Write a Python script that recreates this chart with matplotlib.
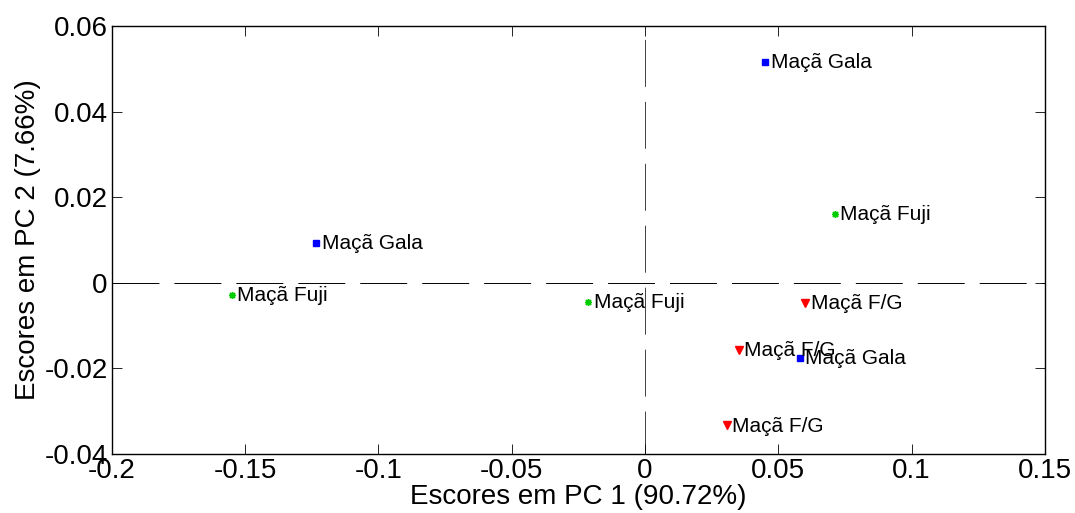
import numpy as np
import matplotlib
matplotlib.use('Agg')
import matplotlib.pyplot as plt

plt.rcParams['font.family'] = ['Liberation Sans', 'DejaVu Sans']
plt.rcParams['lines.scale_dashes'] = False

# scores PC1 / PC2
gala_x = [0.045, -0.1234, 0.058]
gala_y = [0.0517, 0.0093, -0.0175]
fuji_x = [0.0712, -0.155, -0.0214]
fuji_y = [0.0161, -0.0028, -0.0044]
fg_x = [0.060, 0.0352, 0.0307]
fg_y = [-0.0047, -0.0156, -0.0333]

xticks = [-0.2, -0.15, -0.1, -0.05, 0, 0.05, 0.1, 0.15]
yticks = [-0.04, -0.02, 0, 0.02, 0.04, 0.06]

fig = plt.figure(figsize=(10.75, 5.13), dpi=100)
ax = fig.add_axes([0.104, 0.115, 0.868, 0.834])

ax.axhline(0, color='k', lw=0.7, ls=(0, (33.8, 10.8)), zorder=1)
ax.axvline(0, color='0.25', lw=0.7, ls=(2.9, (33.8, 10.8)), zorder=1)

ax.plot(gala_x, gala_y, 's', color='#0000ff', ms=5, ls='none')
ax.plot(fuji_x, fuji_y, marker=(8, 2, 0), color='#00cc00', ms=5, ls='none', mew=1)
ax.plot(fg_x, fg_y, 'v', color='#ff0000', ms=6, ls='none')

def label(xs, ys, txt):
    for x, y in zip(xs, ys):
        ax.annotate(txt, (x, y), xytext=(4, -0.5), textcoords='offset points',
                    ha='left', va='center', fontsize=15)

label(gala_x, gala_y, 'Maçã Gala')
label(fuji_x, fuji_y, 'Maçã Fuji')
label(fg_x, fg_y, 'Maçã F/G')

ax.set_xlim(-0.2, 0.15)
ax.set_ylim(-0.04, 0.06)
ax.set_xticks(xticks)
ax.set_yticks(yticks)
ax.set_xticklabels(['-0.2', '-0.15', '-0.1', '-0.05', '0', '0.05', '0.1', '0.15'])
ax.set_yticklabels(['-0.04', '-0.02', '0', '0.02', '0.04', '0.06'])
ax.tick_params(direction='in', top=True, right=True, length=7, width=0.6,
               labelsize=20, pad=3)
for s in ax.spines.values():
    s.set_linewidth(1.0)

ax.set_xlabel('Escores em PC 1 (90.72%)', fontsize=20, labelpad=0)
ax.set_ylabel('Escores em PC 2 (7.66%)', fontsize=20, labelpad=2)

fig.savefig('out.png', dpi=100)
